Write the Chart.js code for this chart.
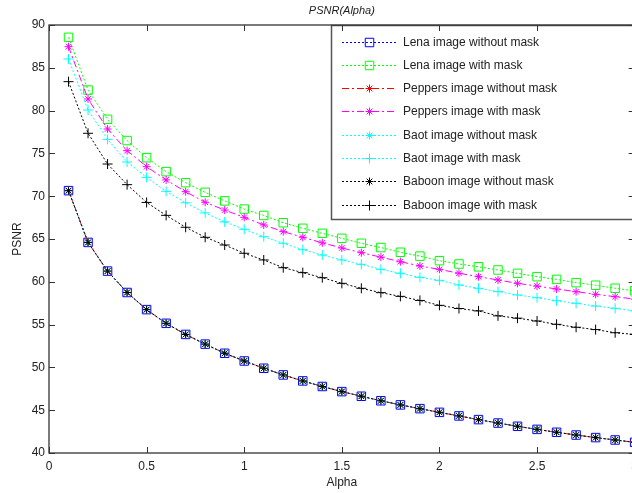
<!DOCTYPE html>
<html>
<head>
<meta charset="UTF-8">
<title>PSNR(Alpha)</title>
<script src="https://cdn.jsdelivr.net/npm/chart.js"></script>
<style>
  html, body { margin: 0; padding: 0; overflow: hidden; background: #fff; }
</style>
</head>
<body>
<canvas id="myChart" width="644" height="493"></canvas>
<script>
// x values (alpha)
const alpha = [0.1, 0.2, 0.3, 0.4, 0.5, 0.6, 0.7, 0.8, 0.9, 1.0,
               1.1, 1.2, 1.3, 1.4, 1.5, 1.6, 1.7, 1.8, 1.9, 2.0,
               2.1, 2.2, 2.3, 2.4, 2.5, 2.6, 2.7, 2.8, 2.9, 3.0];

// PSNR
const lenaNoMask    = [70.65, 64.6, 61.25, 58.75, 56.75, 55.15, 53.85, 52.72, 51.65, 50.75,
                       49.9, 49.12, 48.42, 47.77, 47.17, 46.63, 46.1, 45.62, 45.18, 44.75,
                       44.33, 43.9, 43.5, 43.12, 42.76, 42.42, 42.1, 41.8, 41.52, 41.25];
const lenaMask      = [88.56, 82.4, 78.98, 76.5, 74.5, 72.87, 71.58, 70.45, 69.45, 68.5,
                       67.75, 66.9, 66.25, 65.66, 65.08, 64.5, 64.0, 63.45, 63.0, 62.47,
                       62.08, 61.75, 61.38, 60.99, 60.6, 60.28, 59.9, 59.6, 59.25, 58.95];
const peppersNoMask = [70.65, 64.6, 61.25, 58.75, 56.75, 55.15, 53.85, 52.72, 51.65, 50.75,
                       49.9, 49.12, 48.42, 47.77, 47.17, 46.63, 46.1, 45.62, 45.18, 44.75,
                       44.33, 43.9, 43.5, 43.12, 42.76, 42.42, 42.1, 41.8, 41.52, 41.25];
const peppersMask   = [87.47, 81.36, 77.85, 75.32, 73.45, 71.9, 70.53, 69.29, 68.38, 67.53,
                       66.64, 65.86, 65.2, 64.55, 63.95, 63.4, 62.88, 62.35, 61.85, 61.45,
                       61.0, 60.6, 60.21, 59.82, 59.5, 59.16, 58.85, 58.54, 58.26, 57.98];
const baotNoMask    = [70.65, 64.6, 61.25, 58.75, 56.75, 55.15, 53.85, 52.72, 51.65, 50.75,
                       49.9, 49.12, 48.42, 47.77, 47.17, 46.63, 46.1, 45.62, 45.18, 44.75,
                       44.33, 43.9, 43.5, 43.12, 42.76, 42.42, 42.1, 41.8, 41.52, 41.25];
const baotMask      = [86.03, 80.07, 76.64, 74.0, 72.2, 70.57, 69.23, 68.05, 67.0, 66.13,
                       65.27, 64.5, 63.75, 63.13, 62.55, 62.04, 61.46, 60.99, 60.52, 60.17,
                       59.63, 59.24, 58.85, 58.46, 58.14, 57.79, 57.49, 57.17, 56.9, 56.6];
const baboonNoMask  = [70.65, 64.6, 61.25, 58.75, 56.75, 55.15, 53.85, 52.72, 51.65, 50.75,
                       49.9, 49.12, 48.42, 47.77, 47.17, 46.63, 46.1, 45.62, 45.18, 44.75,
                       44.33, 43.9, 43.5, 43.12, 42.76, 42.42, 42.1, 41.8, 41.52, 41.25];
const baboonMask    = [83.38, 77.35, 73.76, 71.35, 69.27, 67.76, 66.37, 65.2, 64.3, 63.33,
                       62.55, 61.65, 61.07, 60.48, 59.82, 59.24, 58.73, 58.3, 57.82, 57.25,
                       56.88, 56.6, 56.02, 55.75, 55.42, 55.03, 54.69, 54.42, 54.05, 53.85];

const seriesNames = ['Lena image without mask', 'Lena image with mask',
                     'Peppers image without mask', 'Peppers image with mask',
                     'Baot image without mask', 'Baot image with mask',
                     'Baboon image without mask', 'Baboon image with mask'];

const titleText = 'PSNR(Alpha)';
const xTitle = 'Alpha';
const yTitle = 'PSNR';

const FONT = '"Liberation Sans", Arial, sans-serif';
const DOT = [2, 2], DASHDOT = [7, 3, 2, 3];

function pts(vals) {
  return alpha.map((a, i) => ({ x: a, y: vals[i] }));
}

function makeSet(i, vals, color, marker, radius, dash) {
  return {
    label: seriesNames[i],
    data: pts(vals),
    borderColor: color,
    backgroundColor: 'transparent',
    borderWidth: 1,
    borderDash: dash,
    pointStyle: marker,
    pointRadius: radius,
    pointBorderColor: color,
    pointBackgroundColor: 'transparent',
    pointBorderWidth: 1,
    tension: 0,
    order: 8 - i   // later series drawn on top, like matlab
  };
}

const datasets = [
  makeSet(0, lenaNoMask,    '#0000ff', 'rect',  6, DOT),
  makeSet(1, lenaMask,      '#00ff00', 'rect',  6, DOT),
  makeSet(2, peppersNoMask, '#ff0000', 'star',  4, DASHDOT),
  makeSet(3, peppersMask,   '#ff00ff', 'star',  4, DASHDOT),
  makeSet(4, baotNoMask,    '#00ffff', 'star',  4, DOT),
  makeSet(5, baotMask,      '#00ffff', 'cross', 5, DOT),
  makeSet(6, baboonNoMask,  '#000000', 'star',  4, DOT),
  makeSet(7, baboonMask,    '#000000', 'cross', 5, DOT)
];

// axes box, inward ticks, title and legend the matlab way
const matlabBox = {
  id: 'matlabBox',
  afterDraw(chart) {
    const ctx = chart.ctx;
    const a = chart.chartArea;
    const xs = chart.scales.x, ys = chart.scales.y;
    ctx.save();

    // legend box
    const lx = 331, ly = a.top, lw = a.right - 331, lh = 194;
    ctx.fillStyle = '#fff';
    ctx.fillRect(lx, ly, lw, lh);
    ctx.strokeStyle = '#555';
    ctx.lineWidth = 1.5;
    ctx.strokeRect(lx + 0.5, ly + 0.5, lw, lh);
    chart.data.datasets.forEach((ds, i) => {
      const y = Math.round(ly + 16.5 + i * 23.3) + 0.5;
      ctx.strokeStyle = ds.borderColor;
      ctx.lineWidth = 1;
      ctx.setLineDash(ds.borderDash);
      ctx.beginPath();
      ctx.moveTo(342, y);
      ctx.lineTo(396, y);
      ctx.stroke();
      ctx.setLineDash([]);
      ctx.fillStyle = 'rgba(0,0,0,0)';
      ctx.strokeStyle = ds.borderColor;
      Chart.helpers.drawPoint(ctx, {
        pointStyle: ds.pointStyle,
        radius: ds.pointRadius,
        rotation: 0,
        borderWidth: 1
      }, 369.5, y);
      ctx.fillStyle = '#222';
      ctx.font = '12px ' + FONT;
      ctx.textAlign = 'left';
      ctx.textBaseline = 'middle';
      ctx.fillText(ds.label, 403, y);
    });

    // frame
    ctx.strokeStyle = '#333';
    ctx.lineWidth = 1.3;
    ctx.strokeRect(a.left, a.top, a.right - a.left, a.bottom - a.top);

    // inward ticks on all four sides
    ctx.lineWidth = 1;
    ctx.beginPath();
    xs.ticks.forEach(t => {
      const p = Math.round(xs.getPixelForValue(t.value)) + 0.5;
      ctx.moveTo(p, a.bottom); ctx.lineTo(p, a.bottom - 6);
      ctx.moveTo(p, a.top);    ctx.lineTo(p, a.top + 6);
    });
    ys.ticks.forEach(t => {
      const p = Math.round(ys.getPixelForValue(t.value)) + 0.5;
      ctx.moveTo(a.left, p);  ctx.lineTo(a.left + 6, p);
      ctx.moveTo(a.right, p); ctx.lineTo(a.right - 6, p);
    });
    ctx.stroke();

    // title
    ctx.fillStyle = '#222';
    ctx.font = 'italic 11px ' + FONT;
    ctx.textAlign = 'center';
    ctx.textBaseline = 'middle';
    ctx.fillText(titleText, (a.left + a.right) / 2, 11);
    ctx.restore();
  }
};

Chart.defaults.font.family = FONT;
Chart.defaults.font.size = 12;
Chart.defaults.color = '#222';

new Chart(document.getElementById('myChart'), {
  type: 'line',
  data: { datasets: datasets },
  options: {
    responsive: false,
    animation: false,
    layout: { padding: { top: 25, right: 6, left: 0, bottom: 0 } },
    plugins: {
      legend: { display: false },
      title: { display: false },
      tooltip: { enabled: false }
    },
    scales: {
      x: {
        type: 'linear',
        min: 0, max: 3,
        grid: { display: false, drawTicks: false },
        border: { display: false },
        ticks: { stepSize: 0.5, padding: 6, maxRotation: 0, callback: v => String(v) },
        title: { display: true, text: xTitle, padding: { top: 0, bottom: 3 } },
        afterFit(scale) { scale.height = 40; }
      },
      y: {
        min: 40, max: 90,
        grid: { display: false, drawTicks: false },
        border: { display: false },
        ticks: { stepSize: 5, padding: 4 },
        title: { display: true, text: yTitle, padding: { top: 10, bottom: 0 } },
        afterFit(scale) { scale.width = 49; }
      }
    }
  },
  plugins: [matlabBox]
});
</script>
</body>
</html>
